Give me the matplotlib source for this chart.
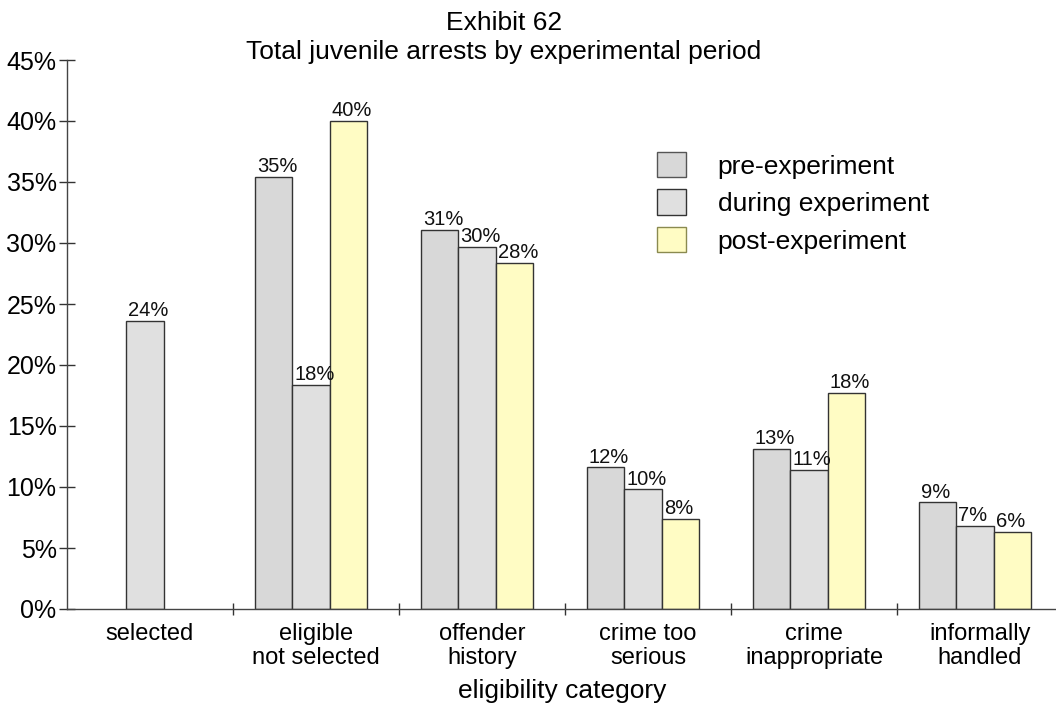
import matplotlib
matplotlib.use("Agg")
import matplotlib.pyplot as plt
import numpy as np

plt.rcParams['font.family'] = ['Liberation Sans', 'DejaVu Sans']

categories = ["selected", "eligible\nnot selected", "offender\nhistory",
              "crime too\nserious", "crime\ninappropriate", "informally\nhandled"]
series_names = ["pre-experiment", "during experiment", "post-experiment"]
pre_values = [np.nan, 35.4, 31.1, 11.6, 13.1, 8.75]
during_values = [23.6, 18.4, 29.7, 9.8, 11.4, 6.8]
post_values = [np.nan, 40.0, 28.4, 7.4, 17.7, 6.3]
pre_labels = [None, "35%", "31%", "12%", "13%", "9%"]
during_labels = ["24%", "18%", "30%", "10%", "11%", "7%"]
post_labels = [None, "40%", "28%", "8%", "18%", "6%"]
yticks = [0, 5, 10, 15, 20, 25, 30, 35, 40, 45]
ytick_labels = [f"{v}%" for v in yticks]

face_colors = ["#d8d8d8", "#e0e0e0", "#fffcc4"]
edge_colors = ["#333333", "#333333", "#333333"]
legend_edges = ["#555555", "#333333", "#8a8a50"]

fig = plt.figure(figsize=(10.56, 7.06), dpi=100)
ax = fig.add_axes([67/1056, 97/706, (1063-67)/1056, (609-60)/706])

x = np.arange(len(categories))
width = 0.226
shift = -0.03
all_vals = [pre_values, during_values, post_values]
all_labels = [pre_labels, during_labels, post_labels]
handles = []
for i, (vals, labs) in enumerate(zip(all_vals, all_labels)):
    pos = x + shift + (i - 1) * width
    bars = ax.bar(pos, vals, width=width, color=face_colors[i],
                  edgecolor=edge_colors[i], linewidth=1.0, label=series_names[i])
    handles.append(bars)
    for p, v, lab in zip(pos, vals, labs):
        if lab is None or np.isnan(v):
            continue
        ax.annotate(lab, xy=(p - width / 2, v), xytext=(1.5, 0.5),
                    textcoords="offset points", ha="left", va="bottom",
                    fontsize=14.5, color="#111111")

ax.set_xlim(-0.5, len(categories) - 0.5)
ax.set_ylim(0, 45)
ax.set_yticks(yticks)
ax.set_yticklabels(ytick_labels, fontsize=18)
ax.tick_params(axis="y", direction="inout", length=11, width=1, pad=2, color="#333333")

ax.set_xticks(x)
ax.set_xticklabels(categories, fontsize=17, linespacing=1.12)
ax.tick_params(axis="x", which="major", length=0, pad=10)
ax.set_xticks(np.arange(0.5, len(categories) - 0.5, 1.0), minor=True)
ax.tick_params(axis="x", which="minor", direction="inout", length=9, width=1, color="#333333")

for s in ["top", "right"]:
    ax.spines[s].set_visible(False)
for s in ["left", "bottom"]:
    ax.spines[s].set_color("#444444")
    ax.spines[s].set_linewidth(1.0)

ax.set_xlabel("eligibility category", fontsize=19)
ax.xaxis.set_label_coords((562 - 67) / (1063 - 67), -0.127)

fig.text(504/1056, 1 - 30/706, "Exhibit 62", ha="center", va="baseline", fontsize=19)
fig.text(504/1056, 1 - 59/706, "Total juvenile arrests by experimental period",
         ha="center", va="baseline", fontsize=19)

leg = fig.legend(handles=handles, labels=series_names, loc="upper left",
                 bbox_to_anchor=(657/1056, 1 - 152/706), frameon=False,
                 fontsize=19, handlelength=1.1, handleheight=1.1,
                 handletextpad=1.2, labelspacing=0.41, borderpad=0,
                 borderaxespad=0)
for patch, ec in zip(leg.get_patches(), legend_edges):
    patch.set_edgecolor(ec)

fig.savefig("out.png", dpi=100)
